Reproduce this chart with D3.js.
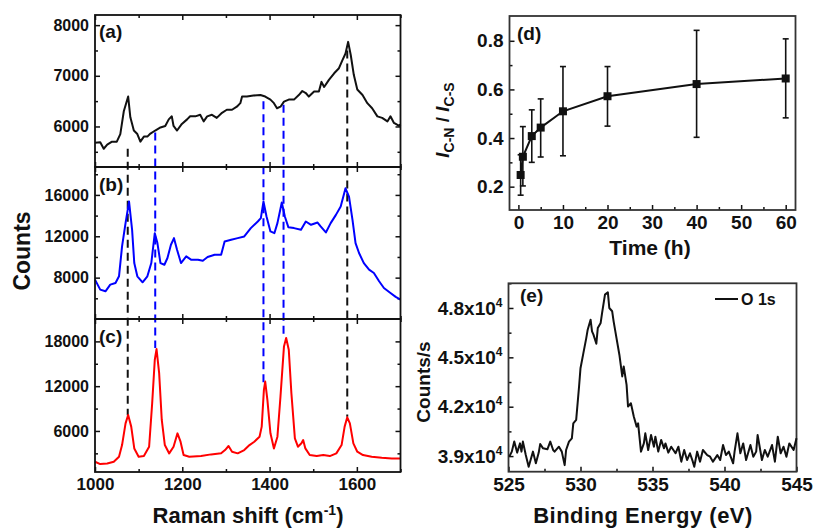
<!DOCTYPE html>
<head>
  <meta charset="utf-8">
  <style>
    body { margin: 0; background: #fff; }
    svg text {
      font-family: "Liberation Sans", Arial, sans-serif;
      font-weight: bold;
      fill: #111;
    }
    .tick line { stroke: #111; stroke-width: 1.5; }
    .domain { display: none; }
  </style>
</head>
<body>
  <svg width="814" height="529"></svg>
  <script src="https://d3js.org/d3.v7.min.js"></script>
  <script>

  // ---- Raman spectra, [shift cm-1, counts] ----
  var specA = [[1000,5680],[1012,5690],[1020,5560],[1028,5640],[1039,5700],[1050,5700],[1058,5850],[1066,6300],[1076,6590],
    [1081,6180],[1089,5920],[1097,5850],[1104,5700],[1112,5800],[1120,5800],[1127,5860],[1138,5920],[1150,5980],[1161,6010],
    [1169,6140],[1176,6200],[1180,6010],[1188,5920],[1199,6050],[1211,6140],[1218,6200],[1230,6200],[1241,6230],[1249,6100],
    [1257,6200],[1268,6230],[1279,6170],[1291,6270],[1302,6330],[1314,6330],[1325,6390],[1333,6460],[1337,6590],[1348,6590],
    [1363,6610],[1379,6620],[1390,6590],[1402,6530],[1410,6460],[1417,6360],[1425,6390],[1433,6490],[1444,6530],[1456,6530],
    [1467,6620],[1475,6700],[1483,6660],[1490,6590],[1502,6690],[1513,6690],[1519,6880],[1525,6780],[1536,6920],[1548,7050],
    [1559,7150],[1567,7310],[1574,7440],[1580,7670],[1586,7410],[1593,7020],[1601,6730],[1613,6620],[1624,6460],[1635,6360],
    [1647,6200],[1658,6170],[1670,6100],[1677,6200],[1685,6070],[1697,6010],[1700,6040]];

  var specB = [[1000,7810],[1012,6840],[1024,6680],[1035,7320],[1047,7480],[1055,8130],[1062,11020],[1070,13270],[1078,15360],
    [1085,12630],[1090,9410],[1097,8130],[1109,7550],[1120,8130],[1129,9410],[1137,12300],[1143,11340],[1150,9410],[1159,9250],
    [1166,9900],[1174,11180],[1181,11820],[1188,10700],[1197,9410],[1209,10060],[1220,9740],[1236,9740],[1247,9640],[1258,9990],
    [1274,10220],[1289,10220],[1297,11500],[1312,11660],[1327,11820],[1342,11980],[1357,12790],[1373,13430],[1380,13750],
    [1386,15360],[1393,13910],[1402,12470],[1411,12300],[1418,13270],[1428,15260],[1435,13910],[1443,12880],[1456,12790],
    [1472,12630],[1483,13430],[1495,13110],[1510,13330],[1517,12950],[1529,12370],[1540,13270],[1552,14070],[1563,14880],
    [1574,16640],[1582,15840],[1590,13590],[1597,11340],[1605,10380],[1616,9410],[1628,8770],[1639,8450],[1651,7650],
    [1662,7000],[1677,6520],[1689,6140],[1700,5880]];

  var specC = [[1000,1870],[1012,1560],[1028,1650],[1043,1870],[1055,2540],[1062,4110],[1070,7020],[1076,8140],[1083,6580],
    [1090,3660],[1100,2540],[1112,2630],[1124,3890],[1131,9710],[1137,15540],[1141,16970],[1147,13740],[1153,7470],[1160,4110],
    [1170,2990],[1180,3890],[1189,5680],[1196,4560],[1203,2770],[1216,2540],[1243,2630],[1266,2860],[1289,3000],[1298,3440],
    [1306,3980],[1314,3220],[1327,3000],[1342,3440],[1354,4110],[1365,4560],[1377,5230],[1382,6580],[1387,11500],[1390,12620],
    [1395,10160],[1402,5680],[1410,3660],[1418,5230],[1425,10610],[1433,17330],[1438,18450],[1444,16880],[1450,11060],
    [1458,5010],[1465,3890],[1473,4340],[1477,4780],[1482,3660],[1492,2770],[1508,2630],[1523,2770],[1538,2630],[1553,3000],
    [1565,4110],[1572,6580],[1578,7830],[1584,7020],[1592,4340],[1601,3220],[1614,2770],[1634,2540],[1657,2410],[1680,2320],
    [1700,2320]];

  // dashed guide lines: position, colour, start value in (a), end value in (c)
  var guidePos = [1075, 1138, 1386, 1432, 1578];
  var guideColor = ["#111", "#0000ff", "#0000ff", "#0000ff", "#111"];
  var guideTopA = [5560, 5880, 6500, 6430, 7500];
  var guideEndC = [8100, 17100, 12000, 18800, 7900];

  // ---- (d) ratio vs time ----
  var timeH = [0.5, 1, 3, 5, 10, 20, 40, 60];
  var ratio = [0.248, 0.323, 0.408, 0.443, 0.51, 0.572, 0.622, 0.645];
  var ratioLo = [0.165, 0.203, 0.300, 0.322, 0.327, 0.449, 0.403, 0.483];
  var ratioHi = [0.331, 0.447, 0.516, 0.561, 0.694, 0.694, 0.843, 0.808];

  // ---- (e) XPS O 1s ----
  var xpsE = [525.05,525.23,525.4,525.6,525.8,525.9,526.0,526.2,526.4,526.5,526.7,526.9,527.1,527.2,527.4,527.7,527.9,528.1,
    528.2,528.5,528.7,528.9,529.0,529.2,529.4,529.5,529.7,529.9,530.0,530.2,530.4,530.5,530.7,530.8,530.9,531.1,531.2,531.4,
    531.5,531.7,531.9,532.0,532.2,532.3,532.5,532.7,532.9,533.0,533.2,533.3,533.5,533.7,533.9,534.0,534.2,534.4,534.5,534.7,
    534.9,535.1,535.2,535.4,535.6,535.8,535.9,536.1,536.3,536.6,536.8,537.0,537.2,537.4,537.6,537.8,537.9,538.1,538.3,538.5,
    538.8,539.0,539.2,539.5,539.7,539.9,540.1,540.3,540.6,540.7,540.9,541.1,541.3,541.5,541.8,542.0,542.2,542.3,542.6,542.8,
    543.0,543.3,543.5,543.7,543.9,544.1,544.3,544.5,544.8,545.0];
  var xpsCounts = [38960,39270,39880,39210,39770,39270,39880,39060,38350,38660,39270,38560,39210,39730,39470,39410,39880,39370,
    39270,39570,39270,38450,39370,39880,40080,40990,41200,43230,44340,45260,46170,46680,47290,46580,46380,45830,46780,47090,
    47700,48810,48950,48000,47800,47190,46170,45160,43840,44450,43330,42010,42210,41400,40790,40990,39270,39770,40380,39370,
    40280,39570,40180,39270,39980,39470,39770,39210,39570,39170,39570,38660,39370,38760,39170,38660,38350,39270,38660,39370,
    39060,38960,38660,39060,38760,39670,39060,39270,38560,39270,40380,39170,39770,38760,39670,38960,39270,40280,38760,39370,
    38960,39670,38660,40180,39170,39570,38960,39770,39370,40080];

  var ramanMajor = [1000, 1200, 1400, 1600], ramanMinor = [1100, 1300, 1500, 1700];
  var ticksA = [6000, 7000, 8000], minorA = [5500, 6500, 7500];
  var ticksB = [8000, 12000, 16000], minorB = [6000, 10000, 14000, 18000];
  var ticksC = [6000, 12000, 18000], minorC = [3000, 9000, 15000];
  var timeMajor = [0, 10, 20, 30, 40, 50, 60], timeMinor = [5, 15, 25, 35, 45, 55];
  var ratioMajor = [0.2, 0.4, 0.6, 0.8], ratioMinor = [0.3, 0.5, 0.7];
  var beMajor = [525, 530, 535, 540, 545], beMinor = [527.5, 532.5, 537.5, 542.5];
  var xpsMajor = [39000, 42000, 45000, 48000], xpsMinor = [40500, 43500, 46500, 49500];

  var svg = d3.select("svg");

  // inward ticks helper: orient is an axis generator, pos is translate
  function ticks(axisFn, scale, values, size, tr, fmt, fontSize) {
    var a = axisFn(scale).tickValues(values).tickSize(-size).tickPadding(fmt ? 6 : 0)
      .tickFormat(fmt || function() { return ""; });
    var g = svg.append("g").attr("transform", tr).call(a);
    if (fmt) g.selectAll("text").style("font-size", fontSize + "px").attr("fill", "#111");
    return g;
  }

  // ---------------- left: Raman ----------------
  var xR = d3.scaleLinear().domain([1000, 1700]).range([95, 400.5]);
  var panels = [
    {data: specA, color: "#111", tag: "(a)", tagY: 38,
     y: d3.scaleLinear().domain([5200, 8200]).range([167, 15]), major: ticksA, minor: minorA},
    {data: specB, color: "#0000ff", tag: "(b)", tagY: 191,
     y: d3.scaleLinear().domain([4000, 18700]).range([319, 167]), major: ticksB, minor: minorB},
    {data: specC, color: "#ff0000", tag: "(c)", tagY: 343,
     y: d3.scaleLinear().domain([500, 21000]).range([472, 319]), major: ticksC, minor: minorC}
  ];

  var line = d3.line().x(function(d) { return xR(d[0]); });

  panels.forEach(function(p, i) {
    var top = p.y.range()[1], bot = p.y.range()[0];
    ticks(d3.axisLeft, p.y, p.major, 5, "translate(95,0)", d3.format("d"), 16);
    ticks(d3.axisLeft, p.y, p.minor, 3, "translate(95,0)");
    ticks(d3.axisRight, p.y, p.major, 5, "translate(400.5,0)");
    ticks(d3.axisRight, p.y, p.minor, 3, "translate(400.5,0)");
    ticks(d3.axisTop, xR, ramanMajor, 5, "translate(0," + top + ")");
    ticks(d3.axisTop, xR, ramanMinor, 3, "translate(0," + top + ")");
    if (i == 2) ticks(d3.axisBottom, xR, ramanMajor, 5, "translate(0," + bot + ")", d3.format("d"), 17);
    else ticks(d3.axisBottom, xR, ramanMajor, 5, "translate(0," + bot + ")");
    ticks(d3.axisBottom, xR, ramanMinor, 3, "translate(0," + bot + ")");
  });

  // dashed guides span the three panels
  guidePos.forEach(function(v, i) {
    svg.append("line")
      .attr("x1", xR(v)).attr("x2", xR(v))
      .attr("y1", panels[0].y(guideTopA[i]))
      .attr("y2", panels[2].y(guideEndC[i]))
      .attr("stroke", guideColor[i]).attr("stroke-width", 2)
      .attr("stroke-dasharray", "8,5");
  });

  panels.forEach(function(p) {
    svg.append("path")
      .datum(p.data)
      .attr("d", line.y(function(d) { return p.y(d[1]); }))
      .attr("fill", "none").attr("stroke", p.color).attr("stroke-width", 2)
      .attr("stroke-linejoin", "round");
    svg.append("text").attr("x", 99).attr("y", p.tagY).style("font-size", "19px").text(p.tag);
    svg.append("rect")
      .attr("x", 95).attr("y", p.y.range()[1])
      .attr("width", 305.5).attr("height", p.y.range()[0] - p.y.range()[1])
      .attr("fill", "none").attr("stroke", "#111").attr("stroke-width", 1.8);
  });

  svg.append("text")
    .attr("transform", "translate(22,251) rotate(-90)")
    .attr("dy", "0.35em").attr("text-anchor", "middle")
    .style("font-size", "23px").text("Counts");

  var rl = svg.append("text").attr("x", 248).attr("y", 523)
    .attr("text-anchor", "middle").style("font-size", "22px");
  rl.append("tspan").text("Raman shift (cm");
  rl.append("tspan").attr("dy", -8).style("font-size", "14px").text("-1");
  rl.append("tspan").attr("dy", 8).text(")");

  // ---------------- (d) ratio ----------------
  var xD = d3.scaleLinear().domain([-2, 62.2]).range([509.5, 795.5]);
  var yD = d3.scaleLinear().domain([0.104, 0.902]).range([210, 16]);

  ticks(d3.axisLeft, yD, ratioMajor, 5, "translate(509.5,0)", d3.format(".1f"), 19);
  ticks(d3.axisLeft, yD, ratioMinor, 3, "translate(509.5,0)");
  ticks(d3.axisBottom, xD, timeMajor, 5, "translate(0,210)", d3.format("d"), 19);
  ticks(d3.axisBottom, xD, timeMinor, 3, "translate(0,210)");

  svg.append("rect").attr("x", 509.5).attr("y", 16).attr("width", 286).attr("height", 194)
    .attr("fill", "none").attr("stroke", "#333").attr("stroke-width", 1.8);

  var eb = svg.append("g").attr("stroke", "#111").attr("stroke-width", 1.6);
  timeH.forEach(function(t, i) {
    var x = xD(t);
    eb.append("line").attr("x1", x).attr("x2", x).attr("y1", yD(ratioLo[i])).attr("y2", yD(ratioHi[i]));
    eb.append("line").attr("x1", x - 3).attr("x2", x + 3).attr("y1", yD(ratioLo[i])).attr("y2", yD(ratioLo[i]));
    eb.append("line").attr("x1", x - 3).attr("x2", x + 3).attr("y1", yD(ratioHi[i])).attr("y2", yD(ratioHi[i]));
  });

  svg.append("path")
    .datum(timeH)
    .attr("d", d3.line().x(function(d) { return xD(d); }).y(function(d, i) { return yD(ratio[i]); }))
    .attr("fill", "none").attr("stroke", "#111").attr("stroke-width", 2);

  svg.selectAll(".sq").data(timeH).enter().append("rect")
    .attr("class", "sq")
    .attr("x", function(d) { return xD(d) - 4; })
    .attr("y", function(d, i) { return yD(ratio[i]) - 4; })
    .attr("width", 8).attr("height", 8).attr("fill", "#111");

  svg.append("text").attr("x", 517).attr("y", 40).style("font-size", "19px").text("(d)");

  svg.append("text").attr("x", 650).attr("y", 255).attr("text-anchor", "middle")
    .style("font-size", "21px").text("Time (h)");

  var yl = svg.append("text")
    .attr("transform", "translate(449,120) rotate(-90)")
    .attr("text-anchor", "middle").style("font-size", "19px");
  yl.append("tspan").style("font-style", "italic").text("I");
  yl.append("tspan").attr("dy", 5).style("font-size", "14px").text("C-N");
  yl.append("tspan").attr("dy", -5).text(" / ");
  yl.append("tspan").style("font-style", "italic").text("I");
  yl.append("tspan").attr("dy", 5).style("font-size", "14px").text("C-S");

  // ---------------- (e) XPS ----------------
  var xE = d3.scaleLinear().domain([525, 545]).range([508.5, 796.5]);
  var yE = d3.scaleLinear().domain([38050, 49500]).range([471.7, 283.3]);

  ticks(d3.axisBottom, xE, beMajor, 5, "translate(0,471.7)", d3.format("d"), 19);
  ticks(d3.axisBottom, xE, beMinor, 3, "translate(0,471.7)");
  var ga = ticks(d3.axisLeft, yE, xpsMajor, 5, "translate(508.5,0)", function(d) { return ""; }, 19);
  ticks(d3.axisLeft, yE, xpsMinor, 3, "translate(508.5,0)");

  // y labels as mantissa x 10^4
  ga.selectAll(".tick").each(function(d) {
    var t = d3.select(this).select("text").text(null);
    t.append("tspan").text((d / 1e4).toFixed(1) + "x10");
    t.append("tspan").attr("dy", -8).style("font-size", "12px").text("4");
  });

  svg.append("rect").attr("x", 508.5).attr("y", 283.3).attr("width", 288).attr("height", 188.4)
    .attr("fill", "none").attr("stroke", "#333").attr("stroke-width", 1.8);

  svg.append("path")
    .datum(xpsE)
    .attr("d", d3.line().x(function(d) { return xE(d); }).y(function(d, i) { return yE(xpsCounts[i]); }))
    .attr("fill", "none").attr("stroke", "#111").attr("stroke-width", 2).attr("stroke-linejoin", "round");

  svg.append("text").attr("x", 520).attr("y", 302).style("font-size", "19px").text("(e)");

  svg.append("line").attr("x1", 715).attr("x2", 738).attr("y1", 299).attr("y2", 299)
    .attr("stroke", "#111").attr("stroke-width", 2);
  svg.append("text").attr("x", 741).attr("y", 305).style("font-size", "16px").text("O 1s");

  svg.append("text")
    .attr("transform", "translate(423,382) rotate(-90)")
    .attr("dy", "0.35em").attr("text-anchor", "middle")
    .style("font-size", "19px").text("Counts/s");

  svg.append("text").attr("x", 643).attr("y", 523).attr("text-anchor", "middle")
    .style("font-size", "22px").style("letter-spacing", "0.5px").text("Binding Energy (eV)");

  </script>
</body>
</html>
